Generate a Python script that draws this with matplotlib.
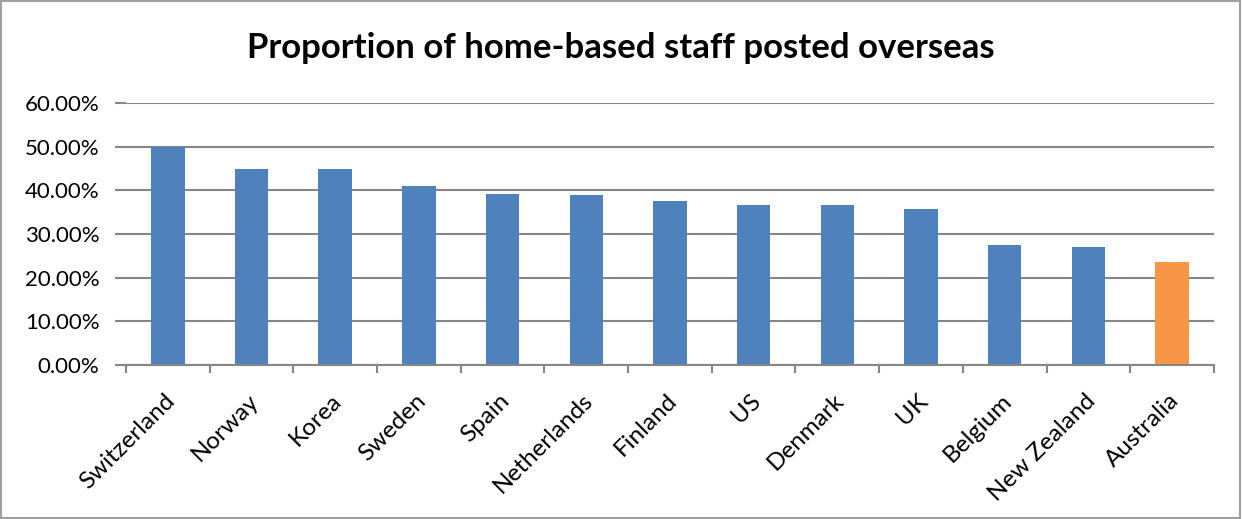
import matplotlib

matplotlib.use("Agg")
import matplotlib.pyplot as plt
import matplotlib.transforms as mtransforms
from matplotlib.patches import Rectangle
from matplotlib.ticker import FixedLocator, FuncFormatter

countries = ["Switzerland", "Norway", "Korea", "Sweden", "Spain", "Netherlands",
             "Finland", "US", "Denmark", "UK", "Belgium", "New Zealand", "Australia"]
share = [0.500, 0.449, 0.449, 0.410, 0.392, 0.390, 0.376, 0.367, 0.367, 0.357,
         0.275, 0.270, 0.236]
highlight = "Australia"

BLUE = "#4F81BD"
ORANGE = "#F79646"
GRID = "#868686"

plt.rcParams["font.family"] = ["Lato", "DejaVu Sans"]

fig = plt.figure(figsize=(12.42, 5.19), dpi=100)
ax = fig.add_axes([0.1014, 0.2967, 0.876, 0.5048])

x = list(range(len(countries)))
colors = [ORANGE if c == highlight else BLUE for c in countries]
ax.bar(x, share, width=0.4, color=colors, zorder=3)

ax.set_xlim(-0.5, len(countries) - 0.5)
ax.set_ylim(0, 0.6)
ax.set_yticks([i / 10 for i in range(7)])
ax.yaxis.set_major_formatter(FuncFormatter(lambda v, _: f"{v * 100:.2f}%"))
ax.grid(axis="y", color=GRID, linewidth=1.5, zorder=0)

for s in ["top", "right", "left"]:
    ax.spines[s].set_visible(False)
ax.spines["bottom"].set_color(GRID)
ax.spines["bottom"].set_linewidth(1.5)
ax.spines["bottom"].set_zorder(4)

ax.tick_params(axis="y", length=8, width=1.5, color=GRID, labelsize=16,
               pad=11, labelcolor="black")
ax.set_xticks(x)
ax.set_xticklabels(countries, rotation=45, ha="right", va="top",
                   rotation_mode="anchor", fontsize=17.5)
ax.tick_params(axis="x", which="major", length=0, pad=18)
shift = mtransforms.ScaledTranslation(-4 / 100, 0, fig.dpi_scale_trans)
for lab in ax.get_xticklabels():
    lab.set_transform(lab.get_transform() + shift)
ax.xaxis.set_minor_locator(FixedLocator([i - 0.5 for i in range(len(countries) + 1)]))
ax.tick_params(axis="x", which="minor", length=6, width=1.5, color=GRID)

fig.text(0.5, 1 - 48 / 519, "Proportion of home-based staff posted overseas",
         fontsize=25, fontweight="bold", ha="center", va="center")

fig.patches.append(Rectangle((0.001, 0.001), 0.997, 0.997, transform=fig.transFigure,
                             fill=False, edgecolor="#A0A0A0", linewidth=1.5))

fig.savefig("out.png", dpi=100)
